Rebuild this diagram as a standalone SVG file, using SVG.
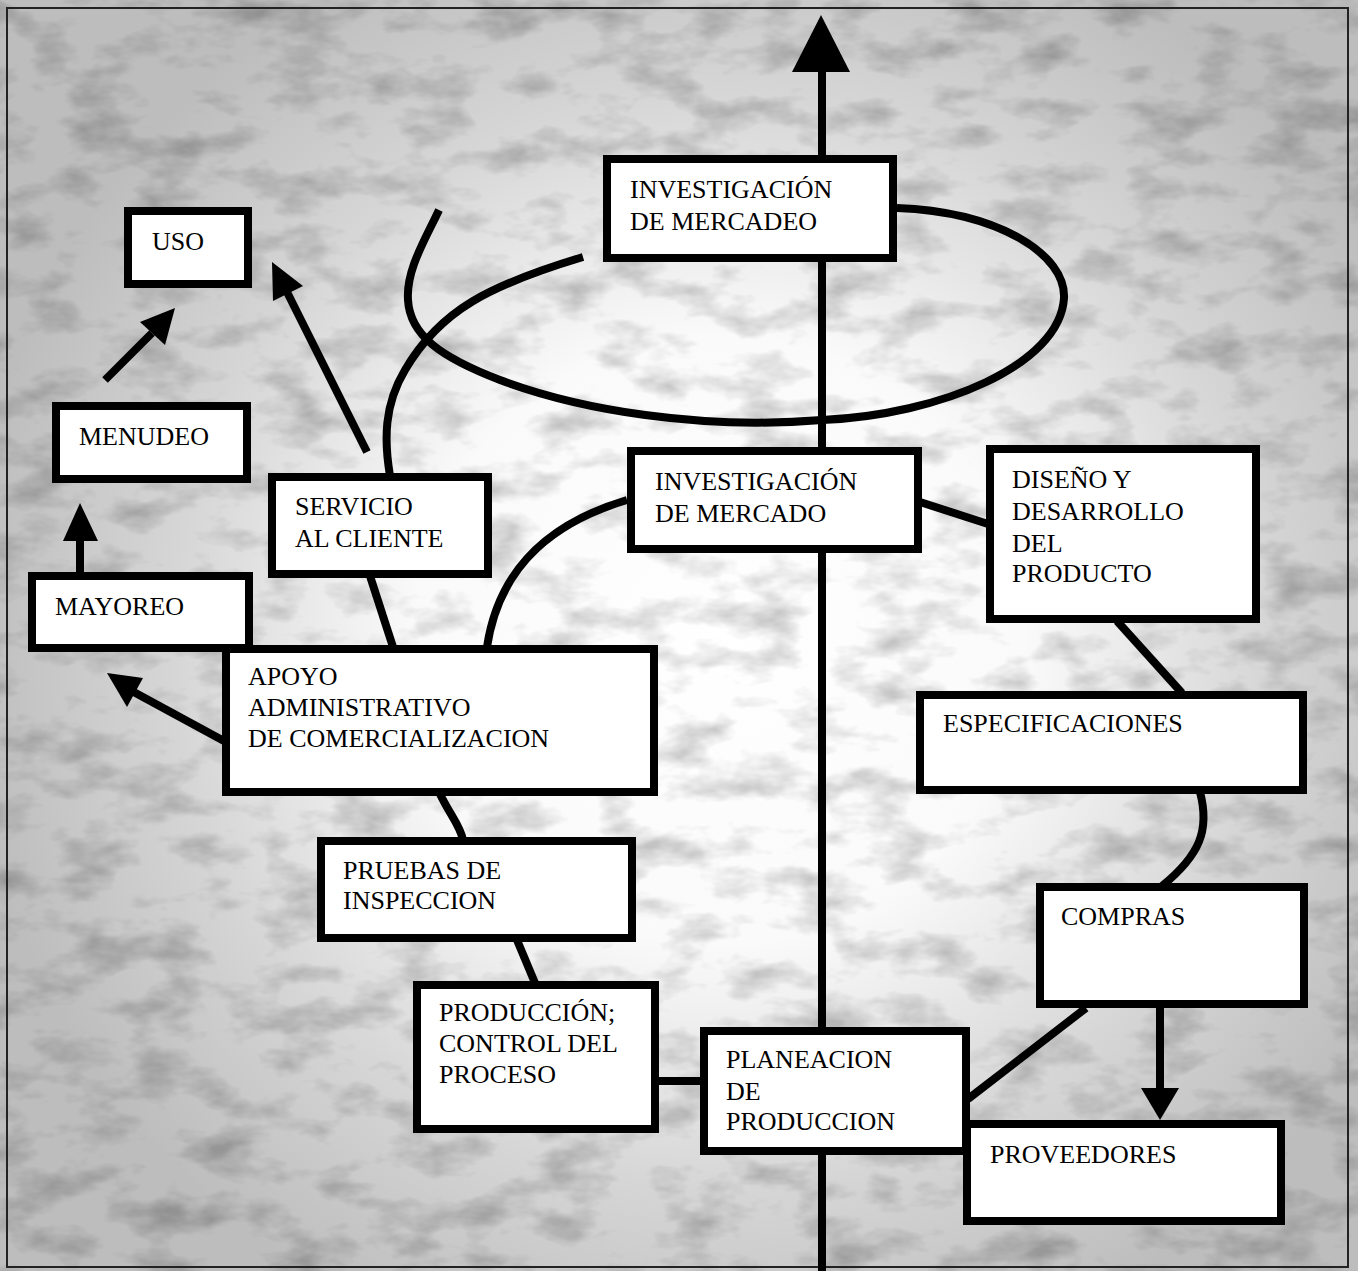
<svg xmlns="http://www.w3.org/2000/svg" width="1358" height="1271" viewBox="0 0 1358 1271">
<defs>
<radialGradient id="bg" cx="720" cy="640" r="760" gradientUnits="userSpaceOnUse">
<stop offset="0" stop-color="#ffffff"/>
<stop offset="0.4" stop-color="#fafafa"/>
<stop offset="0.72" stop-color="#d6d6d6"/>
<stop offset="1" stop-color="#bdbdbd"/>
</radialGradient>
<filter id="noise" x="0" y="0" width="100%" height="100%">
<feTurbulence type="fractalNoise" baseFrequency="0.015 0.03" numOctaves="4" seed="7" result="t"/>
<feColorMatrix in="t" type="matrix" values="0 0 0 0 0  0 0 0 0 0  0 0 0 0 0  0 0 0 -2.4 1.3"/>
</filter>
<style>
.box{fill:#ffffff;stroke:#000000;stroke-width:8}
.ln{fill:none;stroke:#000000;stroke-width:8}
.head{fill:#000000;stroke:none}
text{font-family:"Liberation Serif","Times New Roman",serif;font-size:26px;fill:#000000}
</style>
</defs>
<rect x="0" y="0" width="1358" height="1271" fill="url(#bg)"/>
<rect x="0" y="0" width="1358" height="1271" filter="url(#noise)" opacity="0.22"/>
<rect x="7" y="8" width="1341" height="1259" fill="none" stroke="#222" stroke-width="2"/>

<g id="connectors">
<line class="ln" x1="822" y1="70" x2="822" y2="1271"/>
<polygon class="head" points="821,15 792,72 850,72"/>
<path class="ln" d="M897,208 C1000,212 1066,255 1064,298 C1060,365 940,415 822,420 C700,430 580,410 500,380 C440,357 410,335 408,300 C406,270 425,240 439,210"/>
<path class="ln" d="M390,476 C384,440 384,405 405,370 C440,310 490,285 583,257"/>
<path class="ln" d="M627,500 C560,520 500,560 487,647"/>
<line class="ln" x1="370" y1="576" x2="393" y2="647"/>
<path class="ln" d="M440,794 C450,815 460,825 463,840"/>
<line class="ln" x1="517" y1="940" x2="535" y2="983"/>
<line class="ln" x1="657" y1="1081" x2="702" y2="1081"/>
<line class="ln" x1="920" y1="502" x2="988" y2="524"/>
<line class="ln" x1="1117" y1="621" x2="1182" y2="693"/>
<path class="ln" d="M1200,792 C1210,830 1200,855 1162,886"/>
<line class="ln" x1="1086" y1="1008" x2="968" y2="1099"/>
<line class="ln" x1="1160" y1="1006" x2="1160" y2="1095"/>
<polygon class="head" points="1160,1120 1141,1088 1179,1088"/>
<line class="ln" x1="367" y1="452" x2="286" y2="290"/>
<polygon class="head" points="272,262 303,286 273,301"/>
<line class="ln" x1="105" y1="380" x2="152" y2="333"/>
<polygon class="head" points="175,308 140,322 165,345"/>
<line class="ln" x1="80" y1="574" x2="80" y2="535"/>
<polygon class="head" points="80,503 63,541 98,541"/>
<line class="ln" x1="224" y1="741" x2="130" y2="690"/>
<polygon class="head" points="107,673 143,678 127,707"/>
</g>

<g id="inv-mercadeo"><rect class="box" x="607" y="159" width="286" height="99"/><text x="630" y="198">INVESTIGACIÓN</text><text x="630" y="230">DE MERCADEO</text></g>
<g id="uso"><rect class="box" x="128" y="211" width="120" height="73"/><text x="152" y="250">USO</text></g>
<g id="menudeo"><rect class="box" x="56" y="406" width="191" height="73"/><text x="79" y="445">MENUDEO</text></g>
<g id="mayoreo"><rect class="box" x="32" y="576" width="217" height="72"/><text x="55" y="615">MAYOREO</text></g>
<g id="servicio"><rect class="box" x="272" y="477" width="216" height="97"/><text x="295" y="515">SERVICIO</text><text x="295" y="547">AL CLIENTE</text></g>
<g id="apoyo"><rect class="box" x="226" y="649" width="428" height="143"/><text x="248" y="685">APOYO</text><text x="248" y="716">ADMINISTRATIVO</text><text x="248" y="747">DE COMERCIALIZACION</text></g>
<g id="pruebas"><rect class="box" x="321" y="841" width="311" height="97"/><text x="343" y="879">PRUEBAS DE</text><text x="343" y="909">INSPECCION</text></g>
<g id="produccion"><rect class="box" x="417" y="985" width="238" height="144"/><text x="439" y="1021">PRODUCCIÓN;</text><text x="439" y="1052">CONTROL DEL</text><text x="439" y="1083">PROCESO</text></g>
<g id="inv-mercado"><rect class="box" x="631" y="451" width="287" height="98"/><text x="655" y="490">INVESTIGACIÓN</text><text x="655" y="522">DE MERCADO</text></g>
<g id="diseno"><rect class="box" x="990" y="449" width="266" height="170"/><text x="1012" y="488">DISEÑO Y</text><text x="1012" y="520">DESARROLLO</text><text x="1012" y="552">DEL</text><text x="1012" y="582">PRODUCTO</text></g>
<g id="especificaciones"><rect class="box" x="920" y="695" width="383" height="95"/><text x="943" y="732">ESPECIFICACIONES</text></g>
<g id="compras"><rect class="box" x="1040" y="887" width="264" height="117"/><text x="1061" y="925">COMPRAS</text></g>
<g id="planeacion"><rect class="box" x="704" y="1031" width="262" height="120"/><text x="726" y="1068">PLANEACION</text><text x="726" y="1100">DE</text><text x="726" y="1130">PRODUCCION</text></g>
<g id="proveedores"><rect class="box" x="967" y="1124" width="314" height="97"/><text x="990" y="1163">PROVEEDORES</text></g>
</svg>
